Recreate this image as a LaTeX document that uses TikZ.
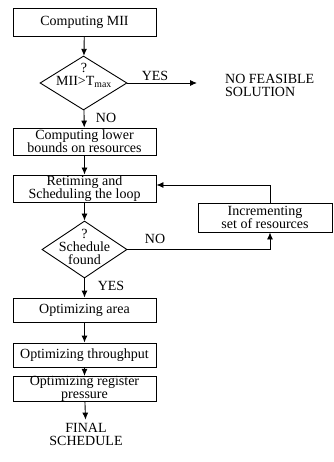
\documentclass[tikz,border=0pt]{standalone}
\usepackage{fontspec}
\setmainfont{Liberation Serif}
\usetikzlibrary{shapes.geometric,arrows.meta}
\newcommand{\flowfont}{\fontsize{14}{13}\selectfont}

\begin{document}
\begin{tikzpicture}[x=1pt,y=1pt]
    % Define styles
    \tikzstyle{process} = [rectangle, draw, line width=0.9pt, minimum width=143pt, minimum height=27pt, inner sep=0pt, align=center, font=\flowfont]
    \tikzstyle{decision} = [diamond, draw, line width=0.9pt, inner sep=0pt]
    \tikzstyle{txt} = [inner sep=1pt, align=center, font=\flowfont]
    \tikzstyle{arrow} = [line width=0.9pt,->,>={Latex[length=7pt,width=6pt]}]

    \useasboundingbox (0,0) rectangle (333,-462);

    % Main column
    \node (s1) [process, minimum height=28pt] at (84.5,-22) {Computing MII};
    \node (q1) [decision, minimum width=87pt, minimum height=54pt] at (83.5,-83) {};
    \node (q1t) [txt] at (84,-75) {?\\MII>T\textsubscript{max}};
    \node (s2) [process] at (84.5,-141.5) {Computing lower\\bounds on resources};
    \node (s3) [process] at (84.5,-188.5) {Retiming and\\Scheduling the loop};
    \node (q2) [decision, minimum width=85pt, minimum height=57pt] at (84.5,-249.5) {};
    \node (q2t) [txt] at (84.5,-247) {?\\Schedule\\found};
    \node (s4) [process, minimum height=24pt] at (84.5,-310) {Optimizing area};
    \node (s5) [process, minimum height=24pt] at (84.5,-355) {Optimizing throughput};
    \node (s6) [process, minimum height=22pt] at (84.5,-389) {Optimizing register\\pressure};
    \node (fin) [txt, inner sep=3pt] at (86,-434) {FINAL\\SCHEDULE};

    % Side nodes
    \node (nofeas) [txt, anchor=west, align=left] at (224,-85) {NO FEASIBLE\\SOLUTION};
    \node (inc) [process, minimum width=134pt, minimum height=29pt] at (265,-217.5) {Incrementing\\set of resources};

    % Labels
    \node (yes1) [txt] at (155,-76) {YES};
    \node (no1) [txt] at (106,-118) {NO};
    \node (no2) [txt] at (155,-239) {NO};
    \node (yes2) [txt] at (111,-286) {YES};

    \coordinate (e1) at (197,-83);
    \coordinate (c1) at (270,-185);

    % Draw connections
    \draw [arrow] (s1) -- (q1);
    \draw [arrow] (q1.east) -- (e1);
    \draw [arrow] (q1) -- (s2);
    \draw [arrow] (s2) -- (s3);
    \draw [arrow] (s3) -- (q2);
    \draw [arrow] (q2.east) -| (inc.south -| c1);
    \draw [arrow] (inc.north -| c1) |- (s3.east |- c1);
    \draw [arrow] (q2) -- (s4);
    \draw [arrow] (s4) -- (s5);
    \draw [arrow] (s5) -- (s6);
    \draw [arrow] (s6) -- (fin);
\end{tikzpicture}
\end{document}
